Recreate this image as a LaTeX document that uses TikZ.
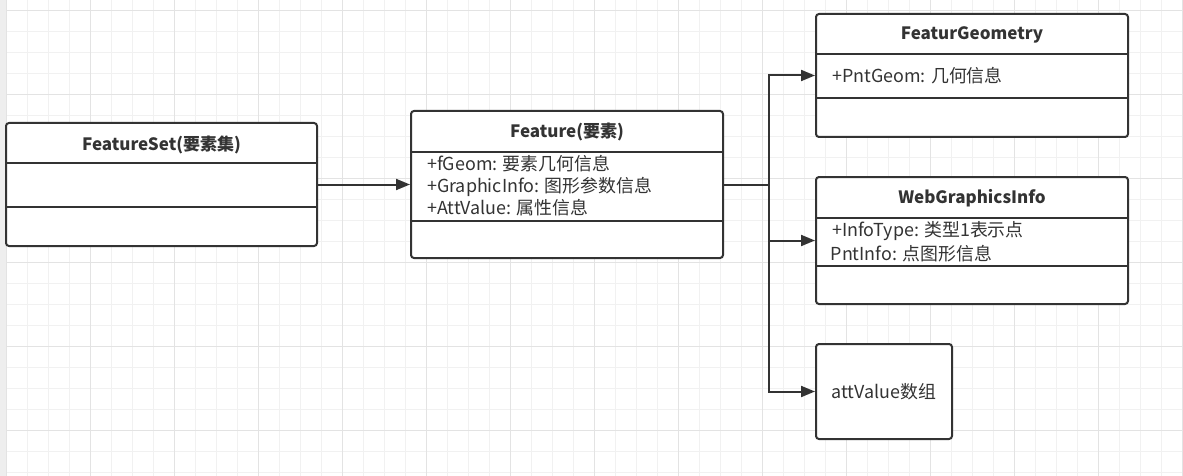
\documentclass[tikz,border=0pt]{standalone}
\usepackage{fontspec}
\setmainfont{Noto Sans CJK SC}
\usetikzlibrary{arrows.meta}
\definecolor{ink}{HTML}{333333}
\definecolor{gridminor}{HTML}{F1F1F1}
\definecolor{gridmajor}{HTML}{E3E3E3}
\definecolor{strip}{HTML}{EEEEEE}
\begin{document}
\begin{tikzpicture}[x=1pt,y=-1pt,
  box/.style={draw=ink, line width=2pt, rounded corners=3pt, fill=white, inner sep=0pt},
  divider/.style={draw=ink, line width=2pt},
  title/.style={font=\fontsize{17}{20}\selectfont\bfseries, text=ink, inner sep=0pt},
  attr/.style={font=\fontsize{17.9}{21}\selectfont, text=ink, inner sep=0pt, anchor=west},
  conn/.style={draw=ink, line width=2pt, -{Triangle[length=14pt,width=11pt]}},
  link/.style={draw=ink, line width=2pt}]
\useasboundingbox (0,0) rectangle (1183,476);
\fill[white] (0,0) rectangle (1183,476);
\fill[strip] (0,0) rectangle (6.7,476);
% grid
\foreach \k in {0,...,56} {\draw[gridminor, line width=1pt] ({6.7+21*\k},0) -- ({6.7+21*\k},476);}
\foreach \k in {0,...,22} {\draw[gridminor, line width=1pt] (6.7,{10.3+21*\k}) -- (1183,{10.3+21*\k});}
\foreach \k in {0,...,14} {\draw[gridmajor, line width=1pt] ({6.7+84*\k},0) -- ({6.7+84*\k},476);}
\foreach \k in {0,...,5} {\draw[gridmajor, line width=1pt] (6.7,{10.3+84*\k}) -- (1183,{10.3+84*\k});}

% FeatureSet
\node[box, minimum width=311pt, minimum height=123pt] (fs) at (161.5,184.5) {};
\draw[divider] (fs.west |- 0,163) -- (fs.east |- 0,163);
\draw[divider] (fs.west |- 0,207) -- (fs.east |- 0,207);
\node[title] (fst) at (161.5,145) {FeatureSet(要素集)};

% Feature
\node[box, minimum width=312pt, minimum height=147pt] (f) at (567,184.5) {};
\draw[divider] (f.west |- 0,152) -- (f.east |- 0,152);
\draw[divider] (f.west |- 0,221) -- (f.east |- 0,221);
\node[title] (ft) at (567,132) {Feature(要素)};
\node[attr] (fa1) at (427,164) {+fGeom: 要素几何信息};
\node[attr] (fa2) at (427,187) {+GraphicInfo: 图形参数信息};
\node[attr] (fa3) at (427,208) {+AttValue: 属性信息};

% FeaturGeometry
\node[box, minimum width=312pt, minimum height=123pt] (fg) at (972,75.5) {};
\draw[divider] (fg.west |- 0,54) -- (fg.east |- 0,54);
\draw[divider] (fg.west |- 0,98) -- (fg.east |- 0,98);
\node[title] (fgt) at (972,35) {FeaturGeometry};
\node[attr] (fga1) at (832,76) {+PntGeom: 几何信息};

% WebGraphicsInfo
\node[box, minimum width=312pt, minimum height=127pt] (wg) at (972,240.5) {};
\draw[divider] (wg.west |- 0,218) -- (wg.east |- 0,218);
\draw[divider] (wg.west |- 0,266) -- (wg.east |- 0,266);
\node[title] (wgt) at (972,198.5) {WebGraphicsInfo};
\node[attr] (wga1) at (832,231.5) {+InfoType: 类型1表示点};
\node[attr] (wga2) at (830.5,254) {PntInfo: 点图形信息};

% attValue
\node[box, minimum width=136pt, minimum height=95pt, font=\fontsize{17.9}{21}\selectfont, text=ink] (av) at (884,391.5) {attValue数组};

% connectors
\coordinate (trunk) at (769,184.5);
\draw[conn] (fs.east) -- (f.west);
\draw[link] (f.east) -- (trunk);
\draw[conn] (trunk) |- (fg.west);
\draw[conn] (trunk) |- (wg.west);
\draw[conn] (trunk) |- (av.west);
\end{tikzpicture}
\end{document}
